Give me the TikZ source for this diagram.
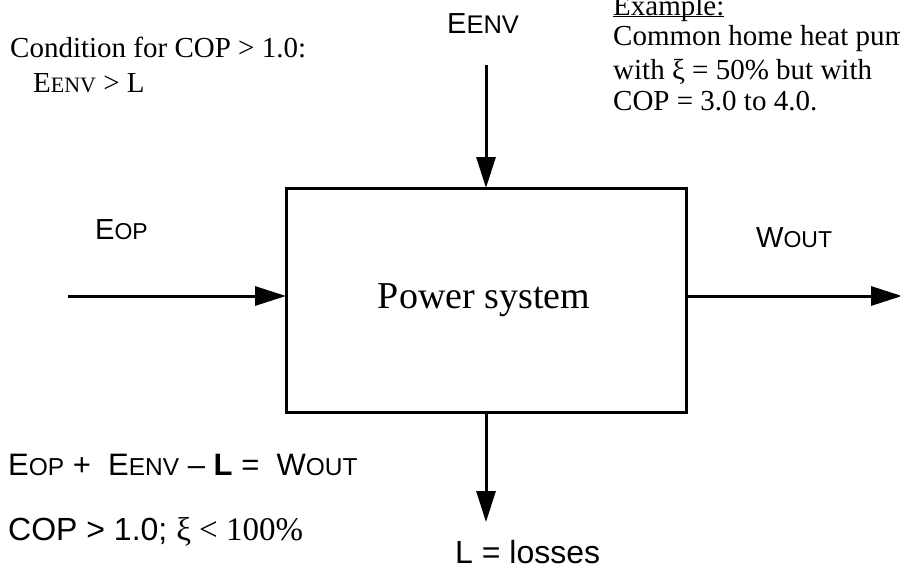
\documentclass[tikz,border=0pt]{standalone}
\usepackage{fontspec}
\setmainfont{Liberation Serif}
\newfontfamily\arfont[Ligatures=TeX]{Liberation Sans}
\usetikzlibrary{arrows.meta}
\newcommand\smS[1]{{\fontsize{23}{23}\selectfont #1}}
\newcommand\smT[1]{{\fontsize{25.5}{25.5}\selectfont #1}}
\newcommand\smE[1]{{\fontsize{24.5}{24.5}\selectfont #1}}
\newcommand\smR[1]{{\fontsize{22}{22}\selectfont #1}}
\tikzset{
  flow/.style={line width=3pt, -{Triangle[length=31pt,width=19pt]}},
  sysbox/.style={draw, line width=3pt, minimum width=400pt, minimum height=224pt, inner sep=0pt, outer sep=0pt},
  sanslab/.style={inner sep=0pt, anchor=base west, font=\arfont\fontsize{29}{29}\selectfont},
  sanseq/.style={inner sep=0pt, anchor=base west, font=\arfont\fontsize{31}{31}\selectfont},
  sansbig/.style={inner sep=0pt, anchor=base west, font=\arfont\fontsize{32}{32}\selectfont},
  serlab/.style={inner sep=0pt, anchor=base west, font=\fontsize{29}{29}\selectfont},
}
\begin{document}
\begin{tikzpicture}[x=1pt,y=-1pt]
\useasboundingbox (0,0) rectangle (900,570);
\node[sysbox] (box) at (486,300) {};
\node[inner sep=0pt, anchor=base, font=\fontsize{38}{38}\selectfont] (ps) at (484,308) {Power system};
% arrows
\coordinate (topS) at (486,65);
\coordinate (leftS) at (68,296);
\coordinate (rightE) at (902,296);
\coordinate (botE) at (486,522);
\draw[flow] (topS) -- (topS |- box.north);
\draw[flow] (leftS) -- (leftS -| box.west);
\draw[flow] (rightE -| box.east) -- (rightE);
\draw[flow] (botE |- box.south) -- (botE);
% labels
\node[sanslab] (eenv) at (447,33) {E\smT{ENV}};
\node[sanslab] (eop) at (95,239) {E\smS{OP}};
\node[sanslab] (wout) at (756,247) {W\smS{OUT}};
\node[sansbig] (loss) at (455,563) {L = losses};
% equations
\node[sanseq] (eq1) at (8,475) {E\smE{OP} +\ \ E\smE{ENV} – \textbf{L} =\ \ W\smE{OUT}};
\node[sansbig] (eq2) at (8,540) {COP > 1.0; {\rmfamily\fontsize{33}{33}\selectfont ξ < 100\%}};
% condition
\node[serlab] (cond1) at (10,57) {Condition for COP > 1.0:};
\node[serlab] (cond2) at (33,92) {E\smR{ENV} > L};
% example
\node[serlab] (ex1) at (613,15) {\underline{\smash{Example:}}};
\node[serlab] (ex2) at (613,45) {Common home heat pump};
\node[serlab] (ex3) at (613,79) {with ξ = 50\% but with};
\node[serlab] (ex4) at (613,110) {COP = 3.0 to 4.0.};
\end{tikzpicture}
\end{document}
